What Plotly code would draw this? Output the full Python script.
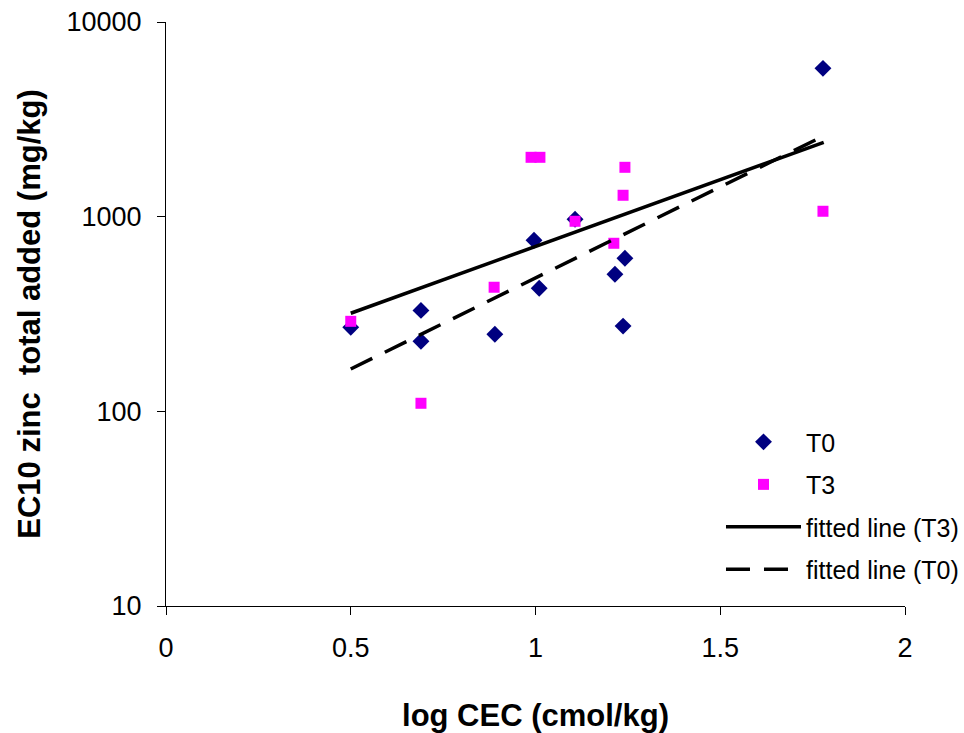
import plotly.graph_objects as go

# T0 data (navy diamonds)
t0_x = [0.50, 0.69, 0.69, 0.89, 0.996, 1.01, 1.107, 1.215, 1.242, 1.237, 1.778]
t0_y = [270, 330, 229, 249, 757, 429, 970, 506, 611, 274, 5780]

# T3 data (magenta squares)
t3_x = [0.50, 0.69, 0.888, 0.988, 1.012, 1.107, 1.212, 1.237, 1.242, 1.778]
t3_y = [290, 110, 434, 2018, 2018, 947, 730, 1288, 1793, 1066]

# fitted lines
fit_t3_x = [0.50, 1.78]
fit_t3_y = [319, 2410]
fit_t0_x = [0.50, 1.78]
fit_t0_y = [165, 2600]

x_ticks = [0, 0.5, 1, 1.5, 2]
x_tick_labels = ["0", "0.5", "1", "1.5", "2"]
y_ticks = [10, 100, 1000, 10000]
y_tick_labels = ["10", "100", "1000", "10000"]

font_family = "Liberation Sans, Arial, sans-serif"

fig = go.Figure()
fig.add_trace(go.Scatter(x=t0_x, y=t0_y, mode="markers", name="T0", legendgroup="a",
                         marker=dict(symbol="diamond", size=13, color="#000080")))
fig.add_trace(go.Scatter(x=t3_x, y=t3_y, mode="markers", name="T3", legendgroup="b",
                         marker=dict(symbol="square", size=11, color="#FF00FF")))
fig.add_trace(go.Scatter(x=fit_t3_x, y=fit_t3_y, mode="lines", name="fitted line (T3)",
                         legendgroup="c", line=dict(color="black", width=3.5)))
fig.add_trace(go.Scatter(x=fit_t0_x, y=fit_t0_y, mode="lines", name="fitted line (T0)",
                         legendgroup="d", line=dict(color="black", width=3.5, dash="24px,14px")))

fig.update_layout(
    width=964, height=733,
    margin=dict(l=166, r=59, t=22, b=127, autoexpand=False),
    paper_bgcolor="white", plot_bgcolor="white",
    font=dict(family=font_family, size=27, color="black"),
    showlegend=True,
    legend=dict(x=0.751, y=0.32, xanchor="left", yanchor="top",
                font=dict(size=25, color="black"),
                bgcolor="rgba(0,0,0,0)", tracegroupgap=7, itemwidth=75),
    xaxis=dict(range=[0, 2], tickvals=x_ticks, ticktext=x_tick_labels,
               showgrid=False, zeroline=False, showline=True, linecolor="black",
               linewidth=1, ticks="outside", ticklen=8, tickcolor="black",
               tickfont=dict(size=27), ticklabelstandoff=10, automargin=False,
               title=dict(text="<b>log CEC (cmol/kg)</b>", font=dict(size=31), standoff=42)),
    yaxis=dict(type="log", range=[1, 4], tickvals=y_ticks, ticktext=y_tick_labels,
               showgrid=False, zeroline=False, showline=True, linecolor="black",
               linewidth=1, ticks="outside", ticklen=8, tickcolor="black",
               tickfont=dict(size=27), ticklabelstandoff=10, automargin=False,
               title=dict(text="<b>EC10 zinc  total added (mg/kg)</b>", font=dict(size=31), standoff=16)),
)

fig.write_html("out.html")
